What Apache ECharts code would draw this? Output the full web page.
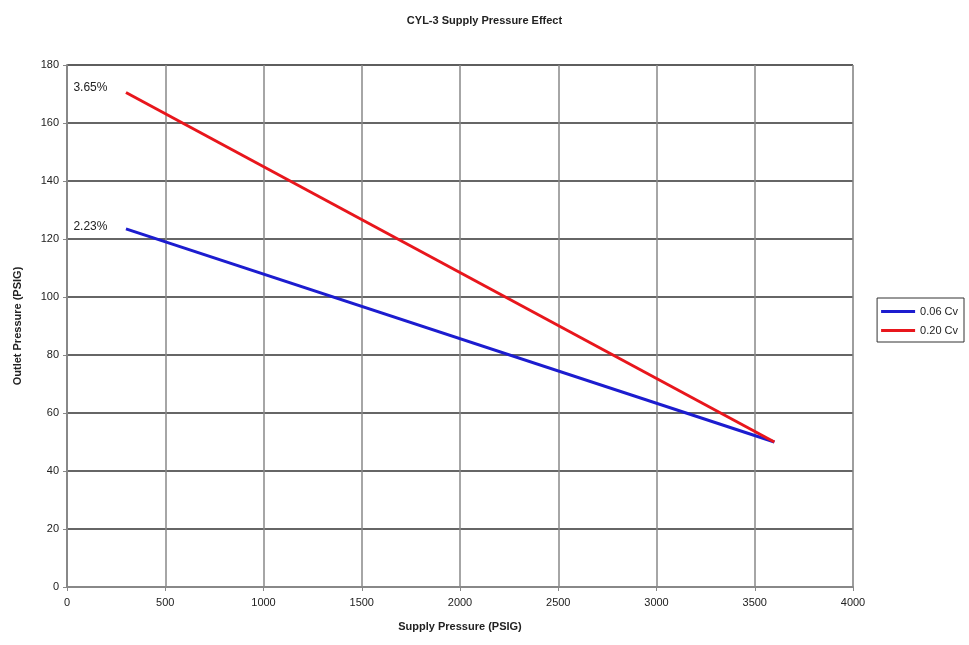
<!DOCTYPE html>
<html><head><meta charset="utf-8">
<script src="https://cdn.jsdelivr.net/npm/echarts@6/dist/echarts.min.js"></script>
<style>html,body{margin:0;padding:0;background:#fff}#c{width:969px;height:645px}</style>
</head><body><div id="c"></div>
<script>
const titleText = 'CYL-3 Supply Pressure Effect';
const xName = 'Supply Pressure (PSIG)';
const yName = 'Outlet Pressure (PSIG)';
const seriesNames = ['0.06 Cv', '0.20 Cv'];
const supply = [300, 3600];
const cv006 = [123.5, 50];
const cv020 = [170.5, 50];
const pctLabels = ['2.23%', '3.65%'];
const colors = ['#1c1ccf', '#e8161c'];

const font = 'Liberation Sans';
const txt = {fontFamily: font, fontSize: 11, fontWeight: 'bold', color: '#222'};
function mk(vals, name, color, pct, dy) {
  return {
    type: 'line', name: name, symbol: 'circle', symbolSize: 1, showSymbol: true, color: color,
    itemStyle: {color: 'rgba(0,0,0,0)'},
    lineStyle: {width: 3, color: color},
    data: supply.map((x, i) => {
      const p = {value: [x, vals[i]]};
      if (i === 0) p.label = {show: true, formatter: pct, position: 'left', distance: 18, offset: [0, dy], fontFamily: font, fontSize: 12, color: '#222'};
      return p;
    }),
    label: {show: false}
  };
}
const chart = echarts.init(document.getElementById('c'));
chart.setOption({
  animation: false,
  backgroundColor: '#fff',
  title: {text: titleText, left: 'center', top: 10, textStyle: {...txt, fontSize: 11}},
  grid: {left: 67, right: 116, top: 65, bottom: 58, show: true, borderColor: '#bbb', borderWidth: 1},
  legend: {
    orient: 'vertical', right: 5, top: 298, itemWidth: 34, itemHeight: 3, itemGap: 8,
    padding: [8, 6, 6, 4], borderColor: '#333', borderWidth: 1,
    textStyle: {...txt, fontWeight: 'normal'},
    data: seriesNames.map(n => ({name: n, icon: 'rect', itemStyle: {color: n === seriesNames[0] ? colors[0] : colors[1]}}))
  },
  xAxis: {
    type: 'value', min: 0, max: 4000, interval: 500,
    name: xName, nameLocation: 'middle', nameGap: 34, nameTextStyle: {...txt},
    axisLine: {lineStyle: {color: '#888', width: 2}},
    axisTick: {show: true, length: 4, lineStyle: {color: '#888'}},
    axisLabel: {...txt, fontWeight: 'normal', margin: 10, formatter: v => String(v)},
    splitLine: {lineStyle: {color: '#888', width: 1.5}}
  },
  yAxis: {
    type: 'value', min: 0, max: 180, interval: 20,
    name: yName, nameLocation: 'middle', nameGap: 44, nameTextStyle: {...txt},
    axisLine: {show: true, lineStyle: {color: '#888', width: 2}},
    axisTick: {show: true, length: 4, lineStyle: {color: '#888'}},
    axisLabel: {...txt, fontWeight: 'normal', margin: 8, formatter: v => String(v)},
    splitLine: {lineStyle: {color: '#333', width: 1.5}}
  },
  series: [
    mk(cv006, seriesNames[0], colors[0], pctLabels[0], -2),
    mk(cv020, seriesNames[1], colors[1], pctLabels[1], -5)
  ]
});
</script></body></html>
